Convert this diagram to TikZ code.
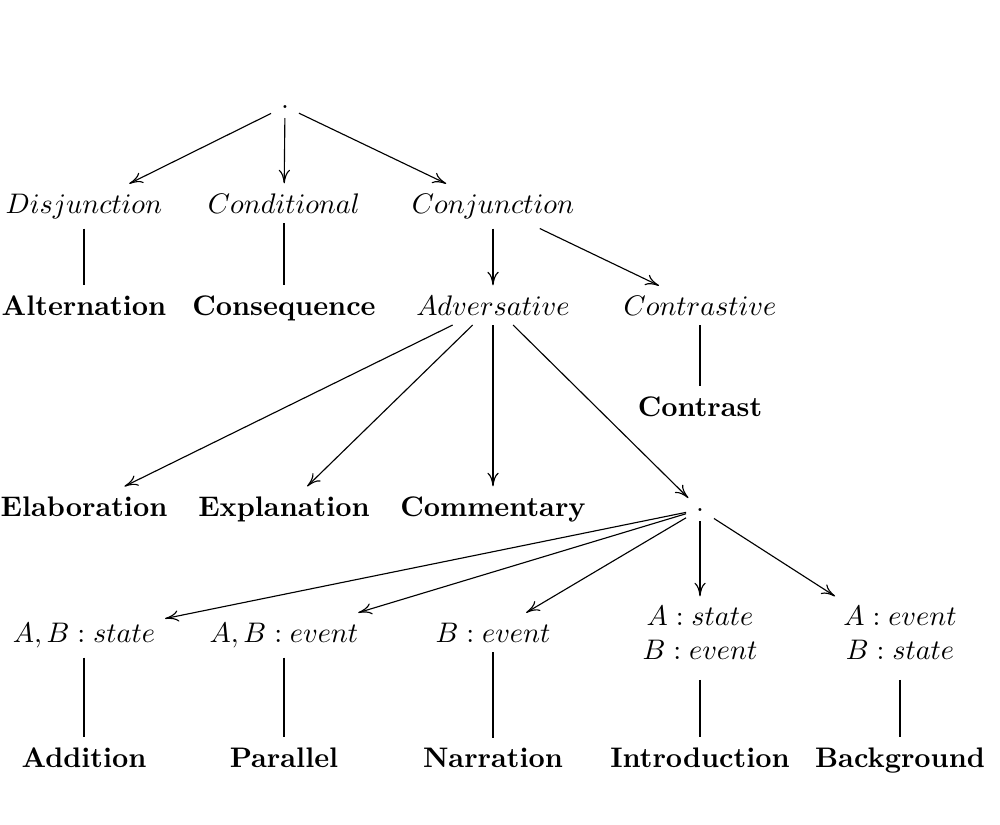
\documentclass[tikz,border=0pt]{standalone}
\usepackage{amsmath}
\usepackage{tikz}
\usetikzlibrary{arrows.meta}

\begin{document}
\begin{tikzpicture}[x=0.01242cm,y=-0.01242cm,>={To[length=4.8pt,width=4pt]},
	every node/.style={anchor=base},
	rel/.style={font=\bfseries},
	deux/.style={anchor=center,align=center},
	fl/.style={->}]
	\useasboundingbox (0,0) rectangle (1000,824);
	% premier niveau
	\node (racine) at (285,108) {.};
	\node (disj) at (84,213) {$Disjunction$};
	\node (cond) at (284,213) {$Conditional$};
	\node (conj) at (493,213) {$Conjunction$};
	\node[rel] (alt) at (84,315) {Alternation};
	\node[rel] (cons) at (284,315) {Consequence};
	\node (adv) at (493,315) {$Adversative$};
	\node (contr) at (700,315) {$Contrastive$};
	\node[rel] (contra) at (700,416) {Contrast};
	% second niveau
	\node[rel] (elab) at (84,516) {Elaboration};
	\node[rel] (expl) at (284,516) {Explanation};
	\node[rel] (comm) at (493,516) {Commentary};
	\node (point) at (700,511) {.};
	\node (abs) at (84,642) {$A, B: state$};
	\node (abe) at (284,642) {$A, B: event$};
	\node (be) at (493,642) {$B: event$};
	\node[deux] (asbe) at (700,638) {$A: state$\\$B: event$\strut};
	\node[deux] (aebs) at (900,638) {$A: event$\\$B: state$\strut};
	\node[rel] (add) at (84,767) {Addition};
	\node[rel] (par) at (284,767) {Parallel};
	\node[rel] (narr) at (493,767) {Narration};
	\node[rel] (intro) at (700,767) {Introduction};
	\node[rel] (back) at (900,767) {Background};
	% les fleches
	\draw[fl] (racine) -- (disj);
	\draw[fl] (racine) -- (cond);
	\draw[fl] (racine) -- (conj);
	\draw (disj) -- (alt);
	\draw (cond) -- (cons);
	\draw[fl] (conj) -- (adv);
	\draw[fl] (conj) -- (contr);
	\draw (contr) -- (contra);
	\draw[fl] (adv) -- (elab);
	\draw[fl] (adv) -- (expl);
	\draw[fl] (adv) -- (comm);
	\draw[fl] (adv) -- (point);
	\draw[fl] (point) -- (abs);
	\draw[fl] (point) -- (abe);
	\draw[fl] (point) -- (be);
	\draw[fl] (point) -- (asbe);
	\draw[fl] (point) -- (aebs);
	\draw (abs) -- (add);
	\draw (abe) -- (par);
	\draw (be) -- (narr);
	\draw (asbe) -- (intro);
	\draw (aebs) -- (back);
\end{tikzpicture}
\end{document}
